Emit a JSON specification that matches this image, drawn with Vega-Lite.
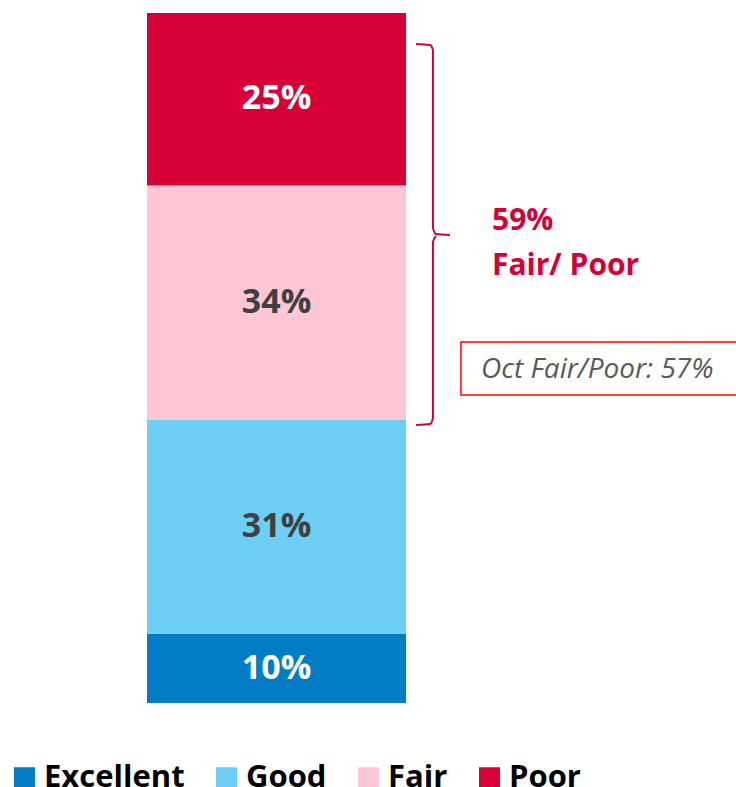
{
  "$schema": "https://vega.github.io/schema/vega-lite/v6.json",
  "width": 736,
  "height": 690,
  "autosize": "none",
  "padding": {"left": 0, "top": 13, "right": 0, "bottom": 84},
  "background": "white",
  "config": {"view": {"stroke": null}},
  "datasets": {
    "segments": [
      {"category": "Excellent", "pct": 10, "rank": 1, "label": "10%"},
      {"category": "Good", "pct": 31, "rank": 2, "label": "31%"},
      {"category": "Fair", "pct": 34, "rank": 3, "label": "34%"},
      {"category": "Poor", "pct": 25, "rank": 4, "label": "25%"}
    ],
    "brace": [
      {"seg": "top", "i": 1, "x": 10.39, "y": 95.51},
      {"seg": "top", "i": 2, "x": 10.93, "y": 95.36},
      {"seg": "top", "i": 3, "x": 11.04, "y": 94.64},
      {"seg": "top", "i": 4, "x": 11.04, "y": 68.84},
      {"seg": "top", "i": 5, "x": 11.16, "y": 67.97},
      {"seg": "top", "i": 6, "x": 11.70, "y": 67.83},
      {"seg": "bottom", "i": 1, "x": 11.16, "y": 67.68},
      {"seg": "bottom", "i": 2, "x": 11.04, "y": 66.81},
      {"seg": "bottom", "i": 3, "x": 11.04, "y": 41.30},
      {"seg": "bottom", "i": 4, "x": 10.93, "y": 40.43},
      {"seg": "bottom", "i": 5, "x": 10.39, "y": 40.29}
    ],
    "notes": [
      {"text": "59%", "x": 13.32, "y": 68.55},
      {"text": "Fair/ Poor", "x": 13.32, "y": 62.03}
    ],
    "box": [
      {"x": 12.12, "x2": 23.5, "y": 52.32, "y2": 44.64, "text": "Oct Fair/Poor: 57%", "tx": 12.90, "ty": 48.2}
    ]
  },
  "layer": [
    {
      "data": {"name": "segments"},
      "mark": {"type": "bar"},
      "transform": [
        {"stack": "pct", "groupby": [], "sort": [{"field": "rank", "order": "ascending"}], "as": ["y0", "y1"]}
      ],
      "encoding": {
        "x": {"datum": 0, "type": "quantitative", "scale": {"domain": [-5.676, 22.741], "nice": false, "zero": false}, "axis": null},
        "x2": {"datum": 10},
        "y": {"field": "y0", "type": "quantitative", "scale": {"domain": [0, 100], "nice": false}, "axis": null},
        "y2": {"field": "y1"},
        "color": {
          "field": "category",
          "type": "nominal",
          "scale": {"domain": ["Excellent", "Good", "Fair", "Poor"], "range": ["#007DC5", "#6DCFF6", "#FFC6D5", "#D70036"]},
          "legend": {
            "title": null,
            "orient": "none",
            "direction": "horizontal",
            "legendX": 9,
            "legendY": 749,
            "symbolType": "square",
            "symbolSize": 441,
            "symbolStrokeWidth": 0,
            "symbolOpacity": 1,
            "labelFont": "Open Sans",
            "labelFontSize": 31,
            "labelFontWeight": "bold",
            "labelColor": "#000000",
            "labelOffset": 4,
            "columnPadding": 26,
            "labelLimit": 400
          }
        }
      }
    },
    {
      "data": {"name": "segments"},
      "transform": [
        {"stack": "pct", "groupby": [], "sort": [{"field": "rank", "order": "ascending"}], "as": ["y0", "y1"]},
        {"calculate": "(datum.y0 + datum.y1) / 2", "as": "ymid"}
      ],
      "mark": {"type": "text", "font": "Open Sans", "fontSize": 34, "fontWeight": "bold", "baseline": "middle", "align": "center"},
      "encoding": {
        "x": {"datum": 5, "type": "quantitative"},
        "y": {"field": "ymid", "type": "quantitative"},
        "text": {"field": "label"},
        "color": {"condition": {"test": "datum.category === 'Good' || datum.category === 'Fair'", "value": "#404040"}, "value": "#FFFFFF"}
      }
    },
    {
      "data": {"name": "brace"},
      "mark": {"type": "line", "color": "#D70036", "strokeWidth": 2, "interpolate": "monotone"},
      "encoding": {
        "x": {"field": "x", "type": "quantitative"},
        "y": {"field": "y", "type": "quantitative"},
        "detail": {"field": "seg"},
        "order": {"field": "i"}
      }
    },
    {
      "data": {"name": "notes"},
      "mark": {"type": "text", "font": "Open Sans", "fontSize": 30, "fontWeight": "bold", "color": "#D70036", "align": "left", "baseline": "alphabetic"},
      "encoding": {
        "x": {"field": "x", "type": "quantitative"},
        "y": {"field": "y", "type": "quantitative"},
        "text": {"field": "text"}
      }
    },
    {
      "data": {"name": "box"},
      "mark": {"type": "rect", "fill": "white", "stroke": "#FF0000", "strokeWidth": 1.5},
      "encoding": {
        "x": {"field": "x", "type": "quantitative"},
        "x2": {"field": "x2"},
        "y": {"field": "y", "type": "quantitative"},
        "y2": {"field": "y2"}
      }
    },
    {
      "data": {"name": "box"},
      "mark": {"type": "text", "font": "Open Sans", "fontSize": 28, "fontStyle": "italic", "color": "#595959", "align": "left", "baseline": "middle"},
      "encoding": {
        "x": {"field": "tx", "type": "quantitative"},
        "y": {"field": "ty", "type": "quantitative"},
        "text": {"field": "text"}
      }
    }
  ]
}
